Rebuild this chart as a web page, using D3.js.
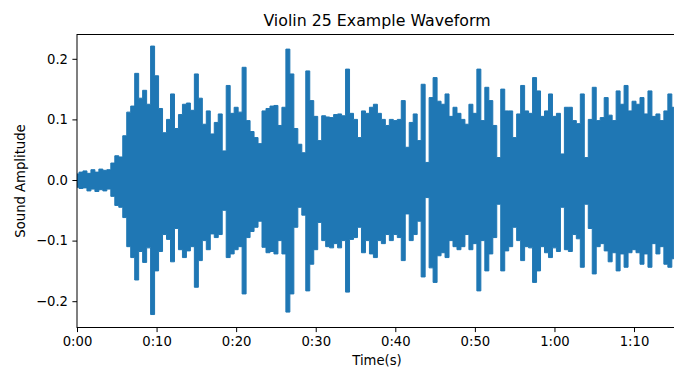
<!DOCTYPE html>
<html>
<head>
<meta charset="utf-8">
<script src="https://cdn.jsdelivr.net/npm/d3@7"></script>
<style>
  body { margin: 0; background: #fff; }
  svg { display: block; }
  text { font-family: "DejaVu Sans", sans-serif; fill: #000; }
</style>
</head>
<body>
<svg id="chart" width="674" height="370"></svg>
<script>
// Envelope of the recording, one sample every half second (seconds, amplitude)
const stepSeconds = 0.5;
const upperEnvelope = [
  0.010, 0.013, 0.015, 0.011, 0.017, 0.013, 0.018, 0.016, 0.017, 0.028,
  0.040, 0.038, 0.073, 0.112, 0.122, 0.176, 0.135, 0.148, 0.125, 0.221,
  0.172, 0.118, 0.078, 0.100, 0.142, 0.085, 0.108, 0.125, 0.127, 0.115,
  0.175, 0.135, 0.092, 0.114, 0.076, 0.095, 0.109, 0.048, 0.156, 0.110,
  0.120, 0.112, 0.186, 0.098, 0.080, 0.070, 0.060, 0.114, 0.118, 0.122,
  0.123, 0.090, 0.120, 0.216, 0.175, 0.085, 0.059, 0.045, 0.180, 0.131,
  0.105, 0.065, 0.106, 0.104, 0.103, 0.108, 0.109, 0.106, 0.183, 0.110,
  0.100, 0.070, 0.114, 0.110, 0.120, 0.125, 0.110, 0.100, 0.090, 0.100,
  0.098, 0.100, 0.131, 0.054, 0.095, 0.109, 0.065, 0.158, 0.029, 0.136,
  0.169, 0.130, 0.125, 0.142, 0.105, 0.120, 0.110, 0.100, 0.092, 0.125,
  0.110, 0.183, 0.098, 0.153, 0.131, 0.090, 0.037, 0.150, 0.114, 0.114,
  0.070, 0.109, 0.156, 0.114, 0.110, 0.169, 0.147, 0.105, 0.114, 0.142,
  0.105, 0.110, 0.043, 0.120, 0.120, 0.098, 0.093, 0.142, 0.037, 0.100,
  0.153, 0.098, 0.103, 0.136, 0.107, 0.098, 0.147, 0.125, 0.156, 0.114,
  0.130, 0.125, 0.136, 0.109, 0.147, 0.105, 0.109, 0.098, 0.114, 0.142,
  0.120
];
const lowerEnvelope = [
  -0.012, -0.014, -0.013, -0.018, -0.015, -0.019, -0.016, -0.018, -0.015, -0.027,
  -0.042, -0.045, -0.062, -0.110, -0.128, -0.165, -0.118, -0.136, -0.112, -0.222,
  -0.150, -0.118, -0.090, -0.098, -0.135, -0.080, -0.115, -0.128, -0.117, -0.110,
  -0.177, -0.133, -0.100, -0.115, -0.089, -0.095, -0.090, -0.050, -0.128, -0.122,
  -0.115, -0.110, -0.188, -0.095, -0.085, -0.078, -0.068, -0.111, -0.120, -0.118,
  -0.122, -0.100, -0.122, -0.218, -0.188, -0.078, -0.045, -0.058, -0.183, -0.139,
  -0.115, -0.070, -0.100, -0.110, -0.112, -0.105, -0.112, -0.100, -0.185, -0.098,
  -0.095, -0.078, -0.120, -0.100, -0.122, -0.128, -0.100, -0.105, -0.090, -0.100,
  -0.090, -0.095, -0.133, -0.056, -0.100, -0.090, -0.068, -0.160, -0.029, -0.145,
  -0.169, -0.125, -0.120, -0.128, -0.100, -0.110, -0.115, -0.110, -0.090, -0.115,
  -0.105, -0.183, -0.100, -0.150, -0.122, -0.095, -0.040, -0.150, -0.117, -0.110,
  -0.078, -0.100, -0.133, -0.110, -0.112, -0.169, -0.150, -0.110, -0.120, -0.128,
  -0.112, -0.118, -0.045, -0.115, -0.118, -0.090, -0.097, -0.144, -0.040, -0.080,
  -0.155, -0.110, -0.105, -0.117, -0.135, -0.120, -0.150, -0.122, -0.144, -0.120,
  -0.115, -0.120, -0.139, -0.122, -0.144, -0.105, -0.122, -0.110, -0.139, -0.144,
  -0.130
];
const timeTicks = [0, 10, 20, 30, 40, 50, 60, 70];
const amplitudeTicks = [-0.2, -0.1, 0.0, 0.1, 0.2];
const durationSeconds = 75.4;
const amplitudeDomain = [-0.2434, 0.2401];

const titleText = "Violin 25 Example Waveform";
const xLabelText = "Time(s)";
const yLabelText = "Sound Amplitude";

const svg = d3.select("#chart");
const plot = { left: 77, right: 677, top: 34.5, bottom: 327.5 };

const x = d3.scaleLinear().domain([0, durationSeconds]).range([plot.left, plot.right]);
const y = d3.scaleLinear().domain(amplitudeDomain).range([plot.bottom, plot.top]);

const samples = upperEnvelope.map((hi, i) => ({ t: i * stepSeconds, hi, lo: lowerEnvelope[i] }));

svg.append("defs").append("clipPath").attr("id", "plotClip")
  .append("rect")
  .attr("x", plot.left).attr("y", plot.top)
  .attr("width", plot.right - plot.left).attr("height", plot.bottom - plot.top);

const blue = "#1f77b4";
// filled band between the lower and upper envelope, held flat across each sample
const area = d3.area()
  .x(d => x(d.t))
  .y0(d => y(d.lo))
  .y1(d => y(d.hi))
  .curve(d3.curveStep);

svg.append("path")
  .datum(samples)
  .attr("clip-path", "url(#plotClip)")
  .attr("d", area)
  .attr("fill", blue)
  .attr("stroke", blue)
  .attr("stroke-width", 1)
  .attr("stroke-linejoin", "miter");

// m:ss labels for the time axis
const fmtTime = s => `${Math.floor(s / 60)}:${String(Math.round(s % 60)).padStart(2, "0")}`;
const fmtAmp = v => (v < 0 ? "\u2212" : "") + Math.abs(v).toFixed(1);

const xAxis = d3.axisBottom(x).tickValues(timeTicks).tickFormat(fmtTime)
  .tickSize(4.6).tickPadding(4.4);
const yAxis = d3.axisLeft(y).tickValues(amplitudeTicks).tickFormat(fmtAmp)
  .tickSize(4.6).tickPadding(4.4);

const gx = svg.append("g").attr("transform", `translate(0,${plot.bottom})`).call(xAxis);
const gy = svg.append("g").attr("transform", `translate(${plot.left},0)`).call(yAxis);
[gx, gy].forEach(g => {
  g.select(".domain").remove();
  g.selectAll(".tick line").attr("stroke", "#000").attr("stroke-width", 1);
  g.selectAll(".tick text").attr("fill", "#000")
    .style("font-family", "'DejaVu Sans', sans-serif").style("font-size", "13.2px");
});

// axes frame
svg.append("rect")
  .attr("x", plot.left).attr("y", plot.top)
  .attr("width", plot.right - plot.left).attr("height", plot.bottom - plot.top)
  .attr("fill", "none").attr("stroke", "#000").attr("stroke-width", 1);

svg.append("text")
  .attr("x", (plot.left + plot.right) / 2).attr("y", 26)
  .attr("text-anchor", "middle").style("font-size", "15.8px")
  .text(titleText);

svg.append("text")
  .attr("x", (plot.left + plot.right) / 2).attr("y", 365)
  .attr("text-anchor", "middle").style("font-size", "13.2px")
  .text(xLabelText);

svg.append("text")
  .attr("transform", `translate(25,${(plot.top + plot.bottom) / 2}) rotate(-90)`)
  .attr("text-anchor", "middle").style("font-size", "13.2px")
  .text(yLabelText);
</script>
</body>
</html>
